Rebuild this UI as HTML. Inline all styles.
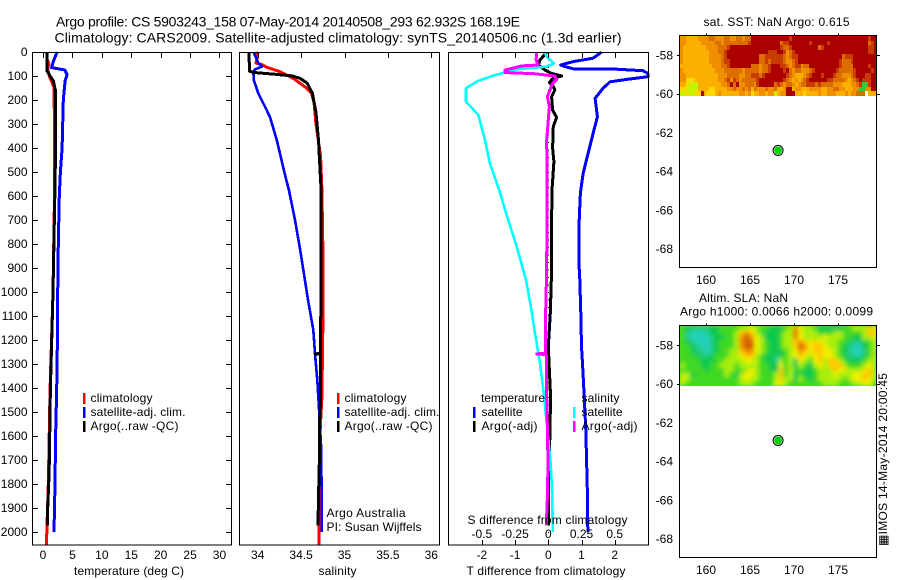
<!DOCTYPE html>
<html lang="en">
<head>
<meta charset="utf-8">
<title>Argo profile CS 5903243_158</title>
<style>
html,body{margin:0;padding:0;background:#fff;}
svg{display:block;font-family:"Liberation Sans","DejaVu Sans",sans-serif;font-size:12px;fill:#000;}
.t14{font-size:14px;}
</style>
</head>
<body>
<svg id="chart" xmlns="http://www.w3.org/2000/svg" width="900" height="580" viewBox="0 0 900 580">
  <defs>
    <filter id="sla-smooth" x="-5%" y="-10%" width="110%" height="120%"><feGaussianBlur stdDeviation="2"/></filter>
    <clipPath id="sla-clip"><rect x="680" y="326" width="197" height="60"/></clipPath>
  </defs>
  <rect x="0" y="0" width="900" height="580" fill="#fff"/>
  <g id="layer-maps"></g>
  <g clip-path="url(#sla-clip)">
    <rect x="680" y="326" width="197" height="60" fill="#50dc20"/>
    <g id="layer-sla" filter="url(#sla-smooth)"></g>
  </g>
  <g id="layer-lines"></g>
  <g id="layer-axes"></g>
  <g>
    <text class="t14" x="56" y="26.5" textLength="464">Argo profile: CS 5903243_158 07-May-2014 20140508_293 62.932S 168.19E</text>
    <text class="t14" x="54.5" y="42.5" textLength="567">Climatology: CARS2009. Satellite-adjusted climatology: synTS_20140506.nc (1.3d earlier)</text>

    <text x="74" y="575" textLength="110">temperature (deg C)</text>
    <text x="318.5" y="575" textLength="38">salinity</text>
    <text x="466.5" y="575" textLength="159">T difference from climatology</text>
    <text x="467.5" y="524" textLength="160">S difference from climatology</text>

    <rect x="83" y="393" width="2.5" height="11" fill="#f00"/>
    <rect x="83" y="407" width="2.5" height="11" fill="#00f"/>
    <rect x="83" y="421" width="2.5" height="11" fill="#000"/>
    <text x="90.5" y="402" textLength="62">climatology</text>
    <text x="90.5" y="416" textLength="95">satellite-adj. clim.</text>
    <text x="90.5" y="430" textLength="88">Argo(..raw -QC)</text>

    <rect x="337" y="393" width="2.5" height="11" fill="#f00"/>
    <rect x="337" y="407" width="2.5" height="11" fill="#00f"/>
    <rect x="337" y="421" width="2.5" height="11" fill="#000"/>
    <text x="344.5" y="402" textLength="62">climatology</text>
    <text x="344.5" y="416" textLength="95">satellite-adj. clim.</text>
    <text x="344.5" y="430" textLength="88">Argo(..raw -QC)</text>
    <text x="326.5" y="517" textLength="79">Argo Australia</text>
    <text x="326.5" y="531" textLength="95">PI: Susan Wijffels</text>

    <text x="481" y="402" textLength="64">temperature</text>
    <rect x="473" y="407" width="2.5" height="11" fill="#00f"/>
    <rect x="473" y="421" width="2.5" height="11" fill="#000"/>
    <text x="481.5" y="416" textLength="41">satellite</text>
    <text x="481.5" y="430" textLength="56">Argo(-adj)</text>
    <text x="581.5" y="402" textLength="38">salinity</text>
    <rect x="573" y="407" width="2.5" height="11" fill="#0ff"/>
    <rect x="573" y="421" width="2.5" height="11" fill="#f0f"/>
    <text x="581.5" y="416" textLength="41">satellite</text>
    <text x="581.5" y="430" textLength="56">Argo(-adj)</text>

    <text x="703.5" y="26" textLength="146">sat. SST: NaN Argo: 0.615</text>
    <text x="699" y="302" textLength="89">Altim. SLA: NaN</text>
    <text x="680" y="315.5" textLength="193">Argo h1000: 0.0066 h2000: 0.0099</text>
    <text transform="translate(887,546) rotate(-90)" textLength="173">▦IMOS 14-May-2014 20:00:45</text>
  </g>
</svg>
<script>
/* ---------- profile data (depth in metres, temperature in deg C, salinity in psu) ---------- */
const tempClimDepth = [0,30,50,70,100,130,150,600,1000,1400,1600,1800,2000,2054];
const tempClimValue = [0.68,0.7,1.0,0.8,1.07,1.6,1.9,1.95,1.7,1.2,1.05,0.9,0.65,0.6];
const tempSatDepth = [0,40,65,75,95,120,200,400,500,600,800,1000,1200,1400,1600,1800,2000];
const tempSatValue = [2.4,1.75,1.47,3.7,4.1,3.75,3.45,3.25,2.95,2.77,2.6,2.5,2.45,2.33,2.15,2.04,1.87];
const tempArgoDepth = [0,80,90,100,120,160,400,600,1000,1400,1600,1700,1800,1900,1973];
const tempArgoValue = [0.68,0.68,0.97,1.2,1.75,2.1,2.15,2.0,1.7,1.25,1.14,1.08,0.97,0.8,0.74];

const salClimDepth = [0,5,20,46,54,63,82,110,145,172,213,297,436,575,800,1158,1437,1575,1714,1853,2054];
const salClimValue = [33.98,33.99,34.0,33.98,34.06,34.10,34.26,34.41,34.545,34.62,34.65,34.67,34.725,34.74,34.75,34.75,34.74,34.72,34.71,34.71,34.706];
const salSatDepth = [0,5,46,61,72,82,117,172,228,270,367,505,575,700,825,1033,1158,1258,1367,1506,1644,1853,2000];
const salSatValue = [33.95,33.957,34.007,34.05,33.97,33.95,33.955,34.007,34.084,34.14,34.22,34.31,34.36,34.43,34.49,34.58,34.64,34.66,34.687,34.71,34.73,34.737,34.737];
const salArgoDepth = [0,80,86,92,99,110,130,172,249,367,505,575,900,1200,1256,1258,1260,1437,1575,1714,1853,1973];
const salArgoValue = [33.90,33.905,33.97,34.18,34.39,34.49,34.57,34.63,34.67,34.70,34.72,34.73,34.73,34.725,34.725,34.66,34.725,34.725,34.71,34.71,34.70,34.695];

const diffTSatDepth = [0,5,26,40,54,61,70,71,78,89,103,114,124,151,193,270,339,422,505,575,603,742,867,950,1089,1228,1297,1436,1575,1853,2000];
const diffTSatValue = [1.6,1.56,1.35,0.75,0.37,0.5,0.75,1.95,2.85,3.0,3.0,2.36,1.86,1.65,1.41,1.48,1.35,1.2,1.05,0.98,0.96,0.92,0.92,0.95,0.98,1.0,1.03,1.08,1.13,1.18,1.19];
const diffTArgoDepth = [0,5,33,54,75,89,100,110,128,140,158,186,242,272,311,400,457,575,811,950,1089,1228,1436,1714,1853,1973];
const diffTArgoValue = [-0.07,-0.07,-0.25,-0.3,-0.1,0.1,0.4,0.14,0.03,0.14,0.2,0.1,0.13,0.25,0.15,0.13,0.17,0.11,0.09,0.09,0.06,0.0,0.07,0.03,0.0,0.0];
const diffSSatDepth = [0,5,20,47,61,72,86,96,120,151,207,262,367,464,575,672,811,950,1089,1158,1297,1436,1575,1714,1853,2000];
const diffSSatValue = [-0.025,-0.025,-0.012,0.043,-0.012,-0.238,-0.326,-0.40,-0.527,-0.62,-0.62,-0.527,-0.477,-0.44,-0.37,-0.318,-0.238,-0.168,-0.123,-0.105,-0.062,-0.032,-0.007,0.018,0.03,0.033];
const diffSArgoDepth = [0,5,33,54,58,75,86,90,100,115,130,158,186,228,297,367,575,900,1130,1255,1258,1261,1436,1575,1714,1853,1973];
const diffSArgoValue = [-0.087,-0.087,-0.092,-0.075,-0.2,-0.326,-0.326,-0.115,0.05,0.063,0.033,0.013,-0.007,0.008,-0.002,-0.012,-0.01,-0.012,-0.022,-0.02,-0.087,-0.015,-0.012,-0.007,-0.002,-0.007,-0.015];

/* ---------- tick values ---------- */
const depthTicks = [0,100,200,300,400,500,600,700,800,900,1000,1100,1200,1300,1400,1500,1600,1700,1800,1900,2000];
const tempTicks = [0,5,10,15,20,25,30];
const salTicks = [34,34.5,35,35.5,36];
const salTickLabels = ["34","34.5","35","35.5","36"];
const diffTTicks = [-2,-1,0,1,2];
const diffSTicks = [-0.5,-0.25,0,0.25,0.5];
const diffSTickLabels = ["-0.5","-0.25","0","0.25","0.5"];
const lonTicks = [160,165,170,175];
const latTicks = [-58,-60,-62,-64,-66,-68];
const argoLon = 168.19;
const argoLat = -62.932;

/* ---------- map grids: colour-class index per cell, north to south ---------- */
const sstRows = [
"3344443333 2233322332 2322000000 0000000100 0000000000 0000000000 0000100",
"3344444333 3322322222 2221000000 0000211000 0000100000 1000000000 0000210",
"3444444443 3332221000 0000000000 0000122100 0000000210 0000000000 0000110",
"3444444444 3332210000 0000000000 1110013210 0000000000 0000000000 0000110",
"3444444444 3333210000 0000000221 1111123211 0000000000 0000021110 0000000",
"3444444444 3333211000 0000000221 2111123321 0000000000 0000122210 0000000",
"4444444444 4333221000 0000222322 1000112321 1322000000 0000122220 0000100",
"3444444444 4433322222 2322222322 1000010232 2333210000 0001222221 0000010",
"3344444444 4443332222 3322111210 0000001234 4432100010 0012233321 0001100",
"3355544444 4443321312 3222221000 0000012343 4321000000 1122223432 1011100",
"4456664444 4444332020 3322231000 0021232234 3221112122 2233344433 2177100",
"5566664444 5544443323 3232423332 3324430043 3444333344 3322334443 3773300",
"6656655045 5543444444 3343544334 3364330004 4454444344 3334443433 2228444"
];
const slaRows = [
"3211112233 3344543322 2347544322 2223344465",
"3100012233 3467643222 3448544433 3443333466",
"3100001223 3478754222 3447544445 4443322445",
"3210001233 3478854322 3446765654 4433211234",
"3321001233 3478854322 3446875665 4432100234",
"3321101233 4467754322 2345765665 5432100134",
"3332112333 4456643221 2345654565 5432110234",
"3333222334 4445543221 4342543564 6643222344",
"4333223344 4344443322 5342432454 6664333454",
"3333323334 4334543322 6343322344 4655444564",
"4423333334 3245543334 6342322344 4544455664",
"5433333333 3345443334 6442432344 4443455654",
"4333333333 3344433335 5433333334 4433344553"
];
const sstColors = ["#aa0000","#c83c00","#dc6e00","#f09000","#fbb000","#ffd800","#c8f000","#20d040","#ffffff"];
const slaColors = ["#20d0b8","#20cc80","#10c850","#40d820","#a8ee10","#f0f000","#ffc800","#f09000","#d06000"];

/* ---------- axis functions ---------- */
const NS = "http://www.w3.org/2000/svg";
const depthY = d => 52 + 0.24 * d;
const tempX = t => 43 + 5.883 * t;
const salX = s => 257.7 + 86.8 * (s - 34);
const diffTX = t => 548.3 + 33.2 * t;
const diffSX = s => 548.3 + 132.8 * s;
const lonX = lon => 706 + 8.8 * (lon - 160);
const latOffset = lat => (-58 - lat) * 19.35;
const sstLatY = lat => 55 + latOffset(lat);
const slaLatY = lat => 345 + latOffset(lat);

const maps = document.getElementById("layer-maps");
const slaLayer = document.getElementById("layer-sla");
const lines = document.getElementById("layer-lines");
const axes = document.getElementById("layer-axes");

function make(parent, tag, attrs, text) {
  const el = document.createElementNS(NS, tag);
  for (const k in attrs) el.setAttribute(k, attrs[k]);
  if (text !== undefined) el.textContent = text;
  parent.appendChild(el);
  return el;
}
function profile(xs, ds, xFn, color, width, name) {
  const pts = ds.map((d, i) => xFn(xs[i]).toFixed(1) + "," + depthY(d).toFixed(1)).join(" ");
  const el = make(lines, "polyline", {points: pts, fill: "none", stroke: color, "stroke-width": width, "stroke-linejoin": "round", "shape-rendering": "crispEdges"});
  
  
  return el;
}
function box(x0, y0, x1, y1, name) {
  const el = make(axes, "rect", {x: x0, y: y0, width: x1 - x0, height: y1 - y0, fill: "none", stroke: "#000", "stroke-width": 1.1, "shape-rendering": "crispEdges"});
  
  
}
function tick(x1, y1, x2, y2, name) {
  const el = make(axes, "line", {x1, y1, x2, y2, stroke: "#000", "stroke-width": 1, "shape-rendering": "crispEdges"});
  
  
}
function label(x, y, anchor, str, name) {
  const el = make(axes, "text", {x, y, "text-anchor": anchor}, str);
  
  
}

/* ---------- heatmaps ---------- */
function heatmap(parent, rows, colors, x0, y0, w, h, name) {
  const grid = rows.map(r => r.replace(/ /g, "").split("").map(Number));
  const rowH = h / grid.length;
  grid.forEach((row, r) => {
    const colW = w / row.length;
    row.forEach((v, c) => {
      const xa = Math.round(x0 + c * colW), xb = Math.round(x0 + (c + 1) * colW);
      const ya = Math.round(y0 + r * rowH), yb = Math.round(y0 + (r + 1) * rowH);
      const cell = make(parent, "rect", {x: xa, y: ya, width: xb - xa, height: yb - ya, fill: colors[v]});
      
      
    });
  });
}
heatmap(maps, sstRows, sstColors, 680, 36, 197, 60, "sst-cell");
heatmap(slaLayer, slaRows, slaColors, 680, 326, 197, 60, "sla-cell");

/* ---------- profile lines ---------- */
profile(tempClimValue, tempClimDepth, tempX, "#f00", 3, "temperature-climatology-line");
profile(tempSatValue, tempSatDepth, tempX, "#00f", 3, "temperature-satellite-line");
profile(tempArgoValue, tempArgoDepth, tempX, "#000", 3, "temperature-argo-line");

profile(salClimValue, salClimDepth, salX, "#f00", 3, "salinity-climatology-line");
profile(salSatValue, salSatDepth, salX, "#00f", 2.6, "salinity-satellite-line");
profile(salArgoValue, salArgoDepth, salX, "#000", 3, "salinity-argo-line");

const zeroLine = make(lines, "line", {x1: diffTX(0), y1: depthY(0), x2: diffTX(0), y2: 544, stroke: "#000", "stroke-width": 1, "stroke-dasharray": "1 6.5", "shape-rendering": "crispEdges"});


profile(diffTSatValue, diffTSatDepth, diffTX, "#00f", 3, "t-difference-satellite-line");
profile(diffTArgoValue, diffTArgoDepth, diffTX, "#000", 3, "t-difference-argo-line");
profile(diffSSatValue, diffSSatDepth, diffSX, "#0ff", 2.6, "s-difference-satellite-line");
profile(diffSArgoValue, diffSArgoDepth, diffSX, "#f0f", 3, "s-difference-argo-line");

/* ---------- axes: profile panels ---------- */
box(32.5, 52.5, 231.5, 545, "temperature-axes-box");
box(239.5, 52.5, 439.5, 545, "salinity-axes-box");
box(448.5, 52.5, 648.5, 545, "difference-axes-box");

depthTicks.forEach(d => {
  const y = Math.round(depthY(d)) + 0.5;
  tick(32.5, y, 38, y, "depth-tick-left");
  tick(226, y, 231.5, y, "depth-tick-right");
  label(27.5, y + 3.5, "end", String(d), "depth-tick-label");
});
tempTicks.forEach(t => {
  const x = Math.round(tempX(t)) + 0.5;
  tick(x, 52.5, x, 58, "temperature-tick");
  label(tempX(t), 559, "middle", String(t), "temperature-tick-label");
});
salTicks.forEach((s, i) => {
  const x = Math.round(salX(s)) + 0.5;
  tick(x, 52.5, x, 58, "salinity-tick");
  label(salX(s), 559, "middle", salTickLabels[i], "salinity-tick-label");
});
diffTTicks.forEach(t => {
  const x = Math.round(diffTX(t)) + 0.5;
  tick(x, 52.5, x, 58, "t-difference-tick-top");
  tick(x, 540, x, 545, "t-difference-tick-bottom");
  label(diffTX(t), 559, "middle", t < 0 ? "-" + Math.abs(t) : String(t), "t-difference-tick-label");
});
diffSTicks.forEach((s, i) => {
  label(diffSX(s), 538, "middle", diffSTickLabels[i], "s-difference-tick-label");
});

/* ---------- axes: maps ---------- */
function mapAxes(top, bottom, latY, prefix) {
  box(679.5, top, 876.5, bottom, prefix + "-map-box");
  lonTicks.forEach(lon => {
    const x = Math.round(lonX(lon)) + 0.5;
    tick(x, top - 2, x, top, prefix + "-lon-tick");
    label(lonX(lon), bottom + 16.5, "middle", String(lon), prefix + "-lon-label");
  });
  latTicks.forEach(lat => {
    const y = latY(lat);
    if (lat >= -60) {
      tick(677, Math.round(y) + 0.5, 679.5, Math.round(y) + 0.5, prefix + "-lat-tick-left");
      tick(876.5, Math.round(y) + 0.5, 880, Math.round(y) + 0.5, prefix + "-lat-tick-right");
    }
    label(673, y + 4.5, "end", String(lat), prefix + "-lat-label");
  });
  const ring = make(axes, "circle", {cx: lonX(argoLon), cy: latY(argoLat), r: 5, fill: "#fff", stroke: "#000", "stroke-width": 1});
  
  
  const dot = make(axes, "circle", {cx: lonX(argoLon), cy: latY(argoLat), r: 3.9, fill: "#00d000"});
  
  
}
mapAxes(35.5, 267.5, sstLatY, "sst");
mapAxes(325.5, 557.5, slaLatY, "sla");
</script>
</body>
</html>
